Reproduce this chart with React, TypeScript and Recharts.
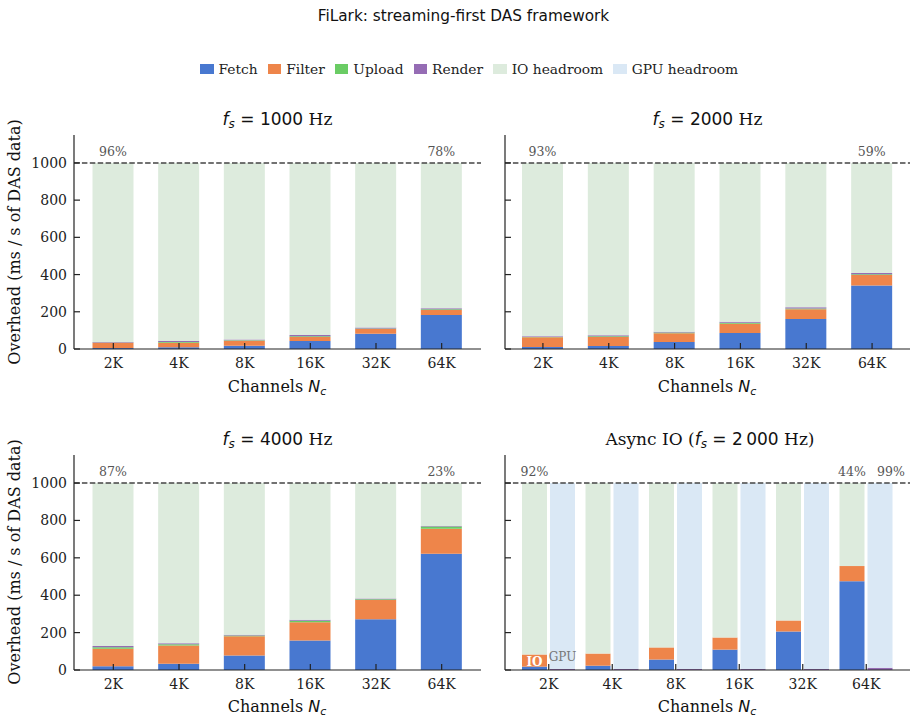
import { BarChart, Bar, XAxis, YAxis, ReferenceLine, LabelList } from "recharts"

const SERIF = "'DejaVu Serif', serif"
const SANS = "'DejaVu Sans', sans-serif"

const COLORS = {
  fetch: "#4878d0",
  filter: "#ee854a",
  upload: "#6acc64",
  render: "#956cb4",
  ioHeadroom: "#ddebdd",
  gpuHeadroom: "#dae8f5",
}

// ms of work per second of DAS data; anything left of the 1 s budget is headroom
const BUDGET_MS = 1000
const CHANNELS = ["2K", "4K", "8K", "16K", "32K", "64K"]
const Y_TICKS = [0, 200, 400, 600, 800, 1000]

// fs = 1000 Hz
const FETCH_1000 = [5, 10, 18, 43, 82, 183]
const FILTER_1000 = [28, 23, 27, 22, 25, 27]
const UPLOAD_1000 = [2, 5, 2, 3, 3, 3]
const RENDER_1000 = [3, 5, 4, 7, 5, 6]

// fs = 2000 Hz
const FETCH_2000 = [11, 16, 38, 86, 161, 341]
const FILTER_2000 = [52, 48, 47, 50, 52, 56]
const UPLOAD_2000 = [1, 5, 3, 5, 5, 5]
const RENDER_2000 = [4, 5, 5, 5, 7, 7]

// fs = 4000 Hz
const FETCH_4000 = [20, 34, 77, 158, 271, 622]
const FILTER_4000 = [94, 97, 104, 97, 104, 133]
const UPLOAD_4000 = [8, 7, 3, 9, 3, 12]
const RENDER_4000 = [6, 5, 5, 5, 5, 3]

// async IO at fs = 2000 Hz: IO thread (fetch + filter) and GPU thread (render) run apart
const ASYNC_FETCH = [18, 23, 56, 109, 206, 475]
const ASYNC_FILTER = [65, 65, 65, 65, 59, 81]
const ASYNC_RENDER = [6, 6, 6, 6, 6, 12]

type Row = Record<string, number | string>

function syncRows(fetch: number[], filter: number[], upload: number[], render: number[]): Row[] {
  return CHANNELS.map((channel, i) => ({
    channel,
    fetch: fetch[i],
    filter: filter[i],
    upload: upload[i],
    render: render[i],
    ioHeadroom: BUDGET_MS - fetch[i] - filter[i] - upload[i] - render[i],
  }))
}

function asyncRows(): Row[] {
  return CHANNELS.map((channel, i) => ({
    channel,
    fetch: ASYNC_FETCH[i],
    filter: ASYNC_FILTER[i],
    ioHeadroom: BUDGET_MS - ASYNC_FETCH[i] - ASYNC_FILTER[i],
    render: ASYNC_RENDER[i],
    gpuHeadroom: BUDGET_MS - ASYNC_RENDER[i],
  }))
}

const pct = (v: number) => `${Math.round((v / BUDGET_MS) * 100)}%`

function box(props: any) {
  const vb = props.viewBox ?? props
  return { x: Number(vb.x), y: Number(vb.y), width: Number(vb.width), height: Number(vb.height) }
}

// headroom percentage printed above the first / last bar
const headroomLabel = (rows: Row[], key: string, show: number[], dx = 0) => (props: any) => {
  if (!show.includes(props.index)) return null
  const { x, y, width } = box(props)
  return (
    <text x={x + width / 2 + dx} y={y - 7} textAnchor="middle" fontSize={12.5} fill="#555" fontFamily={SERIF}>
      {pct(Number(rows[props.index][key]))}
    </text>
  )
}

const xTick = (axisY: number) => (props: any) => {
  const { x, payload } = props
  return (
    <g>
      <line x1={x} x2={x} y1={axisY} y2={axisY - 6} stroke="#222" strokeWidth={1.2} />
      <text x={x} y={axisY + 18.5} textAnchor="middle" fontSize={14} fill="#222" fontFamily={SERIF}>
        {payload.value}
      </text>
    </g>
  )
}

const yTick = (axisX: number, showLabel: boolean) => (props: any) => {
  const { y, payload } = props
  return (
    <g>
      <line x1={axisX} x2={axisX + 6} y1={y} y2={y} stroke="#222" strokeWidth={1.2} />
      {showLabel && (
        <text x={axisX - 7} y={y} textAnchor="end" dominantBaseline="central" fontSize={14} fill="#222" fontFamily={SERIF}>
          {payload.value}
        </text>
      )}
    </g>
  )
}

interface PanelProps {
  rows: Row[]
  left: number
  top: number
  yLabels: boolean
  bottomMargin: number
  rightMargin: number
  axisWidth: number
  pad: number
  async?: boolean
}

const CHART_W = 490
const CHART_H = 250
const TOP_M = 5
const X_AXIS_H = 30

function Panel({ rows, left, top, yLabels, bottomMargin, rightMargin, axisWidth, pad, async }: PanelProps) {
  const axisY = CHART_H - bottomMargin - X_AXIS_H
  return (
    <div style={{ position: "absolute", left, top }}>
      <BarChart
        width={CHART_W}
        height={CHART_H}
        data={rows}
        margin={{ top: TOP_M, right: rightMargin, bottom: bottomMargin, left: 0 }}
        barSize={async ? 25 : 41}
        barGap={3}
      >
        <XAxis
          dataKey="channel"
          interval={0}
          height={X_AXIS_H}
          padding={{ left: pad, right: pad }}
          tickLine={false}
          axisLine={{ stroke: "#222", strokeWidth: 1.2 }}
          tick={xTick(axisY)}
        />
        <YAxis
          type="number"
          domain={[0, 1150]}
          ticks={Y_TICKS}
          width={axisWidth}
          tickLine={false}
          axisLine={{ stroke: "#222", strokeWidth: 1.2 }}
          tick={yTick(axisWidth, yLabels)}
        />
        {async ? (
          [
            <Bar key="fetch" dataKey="fetch" stackId="io" fill={COLORS.fetch} isAnimationActive={false} />,
            <Bar key="filter" dataKey="filter" stackId="io" fill={COLORS.filter} isAnimationActive={false}>
              <LabelList
                dataKey="filter"
                content={(p: any) => {
                  if (p.index !== 0) return null
                  const { x, y, width, height } = box(p)
                  return (
                    <text x={x + width / 2} y={y + height / 2 + 1} textAnchor="middle" dominantBaseline="central" fontSize={12} fontWeight="bold" fill="#fff" fontFamily={SERIF}>
                      IO
                    </text>
                  )
                }}
              />
            </Bar>,
            <Bar key="ioHeadroom" dataKey="ioHeadroom" stackId="io" fill={COLORS.ioHeadroom} isAnimationActive={false}>
              <LabelList dataKey="ioHeadroom" content={headroomLabel(rows, "ioHeadroom", [0, rows.length - 1])} />
            </Bar>,
            <Bar key="render" dataKey="render" stackId="gpu" fill={COLORS.render} isAnimationActive={false}>
              <LabelList
                dataKey="render"
                content={(p: any) => {
                  if (p.index !== 0) return null
                  const { x, y, width } = box(p)
                  return (
                    <text x={x + width / 2} y={y - 7.5} textAnchor="middle" fontSize={12} fill="#777" fontFamily={SERIF}>
                      GPU
                    </text>
                  )
                }}
              />
            </Bar>,
            <Bar key="gpuHeadroom" dataKey="gpuHeadroom" stackId="gpu" fill={COLORS.gpuHeadroom} isAnimationActive={false}>
              <LabelList dataKey="gpuHeadroom" content={headroomLabel(rows, "gpuHeadroom", [rows.length - 1], 11)} />
            </Bar>,
          ]
        ) : (
          [
            <Bar key="fetch" dataKey="fetch" stackId="a" fill={COLORS.fetch} isAnimationActive={false} />,
            <Bar key="filter" dataKey="filter" stackId="a" fill={COLORS.filter} isAnimationActive={false} />,
            <Bar key="upload" dataKey="upload" stackId="a" fill={COLORS.upload} isAnimationActive={false} />,
            <Bar key="render" dataKey="render" stackId="a" fill={COLORS.render} isAnimationActive={false} />,
            <Bar key="ioHeadroom" dataKey="ioHeadroom" stackId="a" fill={COLORS.ioHeadroom} isAnimationActive={false}>
              <LabelList dataKey="ioHeadroom" content={headroomLabel(rows, "ioHeadroom", [0, rows.length - 1])} />
            </Bar>,
          ]
        )}
        <ReferenceLine y={BUDGET_MS} stroke="#444" strokeWidth={1.5} strokeDasharray="5.5 2.4" />
      </BarChart>
    </div>
  )
}

const LEGEND = [
  { name: "Fetch", color: COLORS.fetch },
  { name: "Filter", color: COLORS.filter },
  { name: "Upload", color: COLORS.upload },
  { name: "Render", color: COLORS.render },
  { name: "IO headroom", color: COLORS.ioHeadroom },
  { name: "GPU headroom", color: COLORS.gpuHeadroom },
]

function FsTitle({ x, y, prefix, value }: { x: number; y: number; prefix?: string; value: string }) {
  return (
    <text x={x} y={y} textAnchor="middle" fontSize={17} fill="#111">
      {prefix && <tspan fontFamily={SERIF}>{prefix}</tspan>}
      <tspan fontFamily={SANS} fontStyle="italic">f</tspan>
      <tspan fontFamily={SANS} fontStyle="italic" fontSize={12} dy={3}>s</tspan>
      <tspan fontFamily={SANS} dy={-3}>{` = ${value}`}</tspan>
      <tspan fontFamily={SERIF}>{prefix ? " Hz)" : " Hz"}</tspan>
    </text>
  )
}

function XLabel({ x, y }: { x: number; y: number }) {
  return (
    <text x={x} y={y} textAnchor="middle" fontSize={16} fill="#111">
      <tspan fontFamily={SERIF}>Channels </tspan>
      <tspan fontFamily={SANS} fontStyle="italic">N</tspan>
      <tspan fontFamily={SANS} fontStyle="italic" fontSize={11} dy={3}>c</tspan>
    </text>
  )
}

function YLabel({ y }: { y: number }) {
  return (
    <text
      x={14.5}
      y={y}
      transform={`rotate(-90 14.5 ${y})`}
      textAnchor="middle"
      dominantBaseline="central"
      fontSize={16}
      fill="#111"
      fontFamily={SERIF}
    >
      Overhead (ms / s of DAS data)
    </text>
  )
}

export default function App() {
  const rows1000 = syncRows(FETCH_1000, FILTER_1000, UPLOAD_1000, RENDER_1000)
  const rows2000 = syncRows(FETCH_2000, FILTER_2000, UPLOAD_2000, RENDER_2000)
  const rows4000 = syncRows(FETCH_4000, FILTER_4000, UPLOAD_4000, RENDER_4000)
  const rowsAsync = asyncRows()

  return (
    <div style={{ position: "absolute", left: 0, top: 0, width: 918, height: 723, overflow: "hidden", background: "#fff" }}>
      <Panel rows={rows1000} left={0} top={130} yLabels bottomMargin={1} rightMargin={9} axisWidth={74} pad={6.5} />
      <Panel rows={rows2000} left={430} top={130} yLabels={false} bottomMargin={1} rightMargin={10} axisWidth={75} pad={5} />
      <Panel rows={rows4000} left={0} top={450} yLabels bottomMargin={0} rightMargin={9} axisWidth={74} pad={6.5} />
      <Panel rows={rowsAsync} left={430} top={450} yLabels={false} bottomMargin={0} rightMargin={10} axisWidth={75} pad={12} async />

      <div
        style={{
          position: "absolute",
          left: 200,
          top: 61,
          display: "flex",
          alignItems: "center",
          fontFamily: SERIF,
          fontSize: 13.8,
          color: "#222",
          whiteSpace: "nowrap",
        }}
      >
        {LEGEND.map((item) => (
          <div key={item.name} style={{ display: "flex", alignItems: "center", marginRight: 10 }}>
            <span style={{ width: 13.5, height: 10.5, background: item.color, marginRight: 5, display: "inline-block" }} />
            <span>{item.name}</span>
          </div>
        ))}
      </div>

      <svg width={918} height={723} style={{ position: "absolute", left: 0, top: 0, pointerEvents: "none" }}>
        <text x={463.5} y={21} textAnchor="middle" fontSize={15.3} fill="#111" fontFamily={SANS}>
          FiLark: streaming-first DAS framework
        </text>
        <FsTitle x={277.5} y={125} value="1000" />
        <FsTitle x={707.5} y={125} value="2000" />
        <FsTitle x={277.5} y={445} value="4000" />
        <FsTitle x={710} y={445} prefix="Async IO (" value={"2\u2009000"} />
        <XLabel x={277} y={392} />
        <XLabel x={707} y={392} />
        <XLabel x={277} y={712} />
        <XLabel x={707} y={712} />
        <YLabel y={242} />
        <YLabel y={562} />
      </svg>
    </div>
  )
}
